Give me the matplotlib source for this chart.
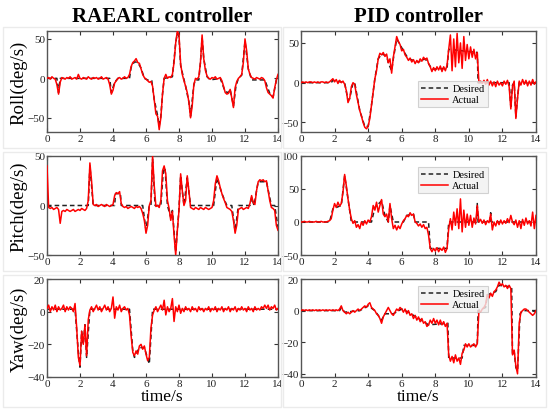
import numpy as np
import matplotlib.pyplot as plt
from matplotlib.patches import Rectangle

plt.rcParams['font.family'] = ['Liberation Serif', 'DejaVu Serif']

roll_rl = [0, 1, -1, 2, 0, -1, -8, -20, -5, 1,
           0, -1, 1, 0, 2, -1, 0, 1, -1, 5,
           0, -1, 1, 0, -1, 2, 0, -1, 1, 0,
           1, -1, 0, 2, -1, 0, 1, -1, -8, -20,
           -15, -6, -3, 0, 1, -1, 0, 2, 0, 1,
           5, 15, 20, 22, 25, 20, 19, 12, 5, 1,
           -1, -3, -5, -4, -10, -28, -45, -48, -65, -50,
           -20, 0, 5, 0, 2, 1, 5, 20, 45, 60,
           55, 18, 5, -3, -10, -18, -30, -50, -35, -8,
           0, -1, 2, 20, 55, 25, 10, 3, 0, -1,
           1, 0, 2, -1, 0, 1, -3, -10, -18, -20,
           -19, -14, -25, -37, -12, -4, 0, 2, 5, 20,
           50, 35, 12, 5, 1, 0, -1, 1, 0, -1,
           1, 0, -3, -12, -18, -20, -22, -25, -12, -2,
           5]
roll_rl_des_t = [0, 0.6, 0.7, 0.8, 3.8, 3.9, 4.1, 4.3, 5.0, 5.1, 5.3, 5.5, 5.7, 5.9, 6.2, 6.35,
                 6.5, 6.7, 6.8, 6.9, 7.0, 7.1, 7.6, 7.8, 7.9, 8.0, 8.1, 8.4, 8.6, 8.7, 8.9, 9.0,
                 9.2, 9.3, 9.4, 9.5, 9.7, 9.9, 10.5, 10.8, 11.0, 11.1, 11.3, 11.45, 11.6, 11.8,
                 12.0, 12.2, 12.4, 13.2, 13.5, 13.7, 13.9, 14]
roll_rl_des = [0, 0, -18, 0, 0, -18, -5, 0, 0, 14, 21, 20, 13, 0, -3, -3,
               -27, -47, -60, -48, -20, 0, 2, 45, 57, 52, 16, -10, -30, -48, -8, -2,
               -2, 20, 52, 25, 2, -2, 0, -17, -18, -14, -35, -10, 0, 4,
               47, 12, -2, -2, -19, -24, -2, 4]

roll_pid = [0, 1, 0, 1, 0, 1, 1, 0, 1, 0,
            1, 0, 1, 1, 0, 1, 0, 1, 3, 5,
            1, 4, -1, 3, 0, 2, -2, -10, -25, -20,
            -5, 0, -2, -15, -25, -35, -42, -50, -56, -58,
            -55, -45, -28, -10, 5, 15, 30, 37, 35, 38,
            33, 36, 25, 30, 12, 32, 45, 58, 52, 48,
            40, 42, 35, 32, 28, 31, 26, 29, 24, 28,
            25, 30, 27, 32, 29, 31, 24, 20, 14, 19,
            15, 20, 16, 21, 14, 20, 15, 22, 42, 60,
            15, 55, 20, 62, 25, 50, 18, 58, 28, 48,
            30, 45, 32, 42, 30, 38, 0, 2, -1, 3,
            -2, 4, -3, 2, -4, 1, -5, 2, -3, 0,
            -4, 2, -2, 3, -5, -33, -5, 2, -45, -20,
            2, -3, 4, -2, 3, -4, 2, -3, 4, -2,
            1]
roll_pid_des_t = [0, 1.8, 1.9, 2.6, 2.8, 2.9, 3.1, 3.2, 3.5, 3.8, 4.0, 4.2, 4.4, 4.6, 4.8, 5.1,
                  5.2, 5.4, 5.5, 5.7, 5.9, 6.1, 6.4, 7.0, 7.4, 7.6, 7.8, 8.7, 8.8, 10.5, 10.55,
                  12.4, 12.5, 12.6, 12.7, 12.8, 12.9, 13.0, 14]
roll_pid_des = [0, 0, 3, 0, -22, -20, 0, 0, -35, -55, -55, -28, 5, 30, 36, 34,
                25, 15, 30, 55, 48, 40, 30, 26, 30, 24, 17, 18, 42, 38, 0,
                0, -30, -3, 0, -43, -18, 0, 0]

pitch_rl = [40, -2, -3, -2, -4, -3, -2, -4, -18, -6,
            -5, -6, -4, -5, -6, -5, -4, -6, -5, -4,
            -5, -3, -4, -5, -3, 5, 43, 25, 1, 0,
            1, -1, 0, 1, 0, -1, 1, 0, -1, 0,
            1, 10, 13, 12, 14, 2, -1, -2, -1, -3,
            -2, -1, -2, -3, -1, -2, -1, -3, -8, -15,
            -28, -20, 0, 5, 50, 20, -1, 0, -2, 5,
            35, 40, 32, 5, -3, -15, -6, -30, -50, -25,
            -5, 32, 15, 0, 5, 30, 15, -2, -3, -4,
            -2, -3, -4, -2, -3, -4, -2, -3, -4, -3,
            -2, 5, 22, 30, 25, 18, 12, 7, 3, -2,
            -3, -4, -6, -15, -28, -20, -4, -3, -2, -4,
            -3, -2, -3, 2, 10, 3, 1, 15, 24, 26,
            25, 26, 24, 25, 15, 5, -2, -3, -5, -20,
            -25]
pitch_rl_des_t = [0, 2.5, 2.6, 2.8, 4.1, 4.15, 4.45, 4.5, 5.8, 6.0, 6.2, 6.3, 6.4, 6.55, 6.9,
                  7.05, 7.15, 7.3, 7.5, 7.6, 7.8, 8.0, 8.1, 8.3, 8.5, 8.7, 10.1, 10.3, 10.6,
                  10.9, 11.2, 11.4, 11.6, 12.3, 12.4, 12.55, 12.7, 12.8, 13.3, 13.6, 13.8, 14]
pitch_rl_des = [0, 0, 40, 0, 0, 12, 12, 0, 0, -25, 0, 0, 47, 0, 0,
                35, 38, 0, -12, -5, -47, -3, 30, 0, 28, 0, 0, 28, 12,
                0, 0, -26, 0, 0, 8, 0, 15, 24, 24, 0, 0, -22]

pitch_pid = [0, 0, 1, 0, 0, 1, 0, 0, 0, 1,
             0, 0, 1, 0, 0, 0, 1, 2, 5, 18,
             28, 22, 30, 24, 28, 45, 72, 55, 35, 18,
             5, -2, 2, -8, -4, -10, 0, -5, 2, -3,
             3, 0, 8, 25, 18, 30, 15, 25, 34, 12,
             8, 12, 0, 28, 5, -10, -5, -12, -6, -10,
             -3, 2, 5, 10, 8, 14, 10, 12, 0, -2,
             -6, -3, -8, -4, -10, -8, -20, -40, -45, -40,
             -44, -39, -45, -40, -43, -38, -46, -40, -10, 5,
             -12, 15, -5, 20, -10, 35, -15, 18, -8, 12,
             -5, 10, -8, 6, -3, 25, 0, 4, -2, 3,
             -4, 2, -1, 12, -12, 0, -6, 2, -4, 3,
             -3, 2, -2, 5, -1, 10, 0, -4, 3, -8,
             2, -10, 4, -5, 6, -3, 2, -6, 15, -10,
             10]
pitch_pid_des_t = [0, 1.7, 1.9, 2.4, 2.6, 2.8, 3.0, 4.2, 4.4, 4.8, 5.0, 5.2, 5.3, 5.5, 6.1,
                   6.3, 6.7, 6.8, 7.6, 7.7, 8.7, 8.8, 10.45, 10.5, 10.55, 11.25, 11.3, 11.35, 14]
pitch_pid_des = [0, 0, 20, 25, 70, 35, 0, 0, 22, 32, 10, 0, 25, 0, 0,
                 10, 12, 0, 0, -40, -40, 0, 0, 28, 0, 0, 14, 0, 0]

yaw_rl = [2, 4, 0, 3, 1, 4, 0, 3, 1, 2,
          4, 0, 3, 1, 3, 2, 0, 5, -10, -28,
          -33, -12, -20, -8, -27, -5, 1, 3, 0, 2,
          4, 1, 3, 0, 2, 4, 1, 3, 0, 2,
          9, -4, 3, 1, 4, 0, 2, 3, 1, 2,
          -2, -15, -25, -27, -24, -26, -21, -20, -23, -21,
          -26, -30, -28, -10, -2, 1, 3, 0, 2, 4,
          1, 7, -2, 3, 0, 2, 8, -6, 3, 0,
          4, -1, 2, 0, 3, 1, 2, 0, 3, 1,
          2, 0, 3, 1, 2, 0, 2, 1, 3, 0,
          2, 1, 3, 0, 2, 1, 3, 0, 2, 1,
          3, 0, 2, 1, 3, 0, 2, 1, 3, 1,
          2, 0, 3, 1, 2, 0, 3, 1, 2, 1,
          3, 2, 4, 2, 4, 1, 3, 2, 4, 1,
          2]
yaw_rl_des_t = [0, 1.7, 1.9, 2.0, 2.1, 2.2, 2.3, 2.4, 2.6, 5.0, 5.2, 5.3, 5.6, 5.9, 6.2, 6.4, 14]
yaw_rl_des = [1.5, 1.5, -25, -34, -12, -20, -8, -28, 1.5, 1.5, -24, -28, -22, -22, -32, 1.5, 1.5]

yaw_pid = [0, 0.5, 0, 0.5, 0, 0.5, 0, 0.5, 0, 0.5,
           0, 0.5, 0, 0.5, 0, 0.5, 0, 0.5, 0, 0.5,
           0, 0.5, 0, 1, 3, 0, -1, -2, -1, -2,
           -1, 0, -1, 0, 1, 0, 1, 2, 3, 2,
           4, 5, 2, 1, 0, -2, -3, -5, -8, -4,
           -2, 0, 2, 0, -2, -3, -1, 1, 0, 2,
           1, -1, 1, -2, 0, -3, -2, -5, -3, -6,
           -4, -7, -5, -8, -7, -10, -9, -6, -8, -5,
           -8, -6, -9, -6, -9, -7, -10, -8, -28, -32,
           -29, -33, -28, -32, -30, -34, -27, -25, -21, -23,
           -21, -23, -22, -21, -23, -21, 0, -1, 1, 2,
           4, 10, 8, 11, 9, 12, 13, 15, 18, 16,
           17, 15, 16, 14, 16, 14, -28, -25, -35, -40,
           -8, -1, 0, 1, 1, 0, -1, -2, -3, -2,
           0]
yaw_pid_des_t = [0, 2.3, 2.4, 2.6, 3.5, 4.0, 4.4, 4.8, 5.0, 5.5, 6.0, 6.4, 7.6, 8.75, 8.8,
                 9.6, 9.7, 10.5, 10.55, 11.0, 11.1, 11.6, 11.8, 12.55, 12.6, 12.7, 12.8,
                 12.9, 13.05, 13.2, 14]
yaw_pid_des = [0, 0, 2, -1, 0, 3, 0, -6, -2, -2, 1, -1, -9, -8, -30,
               -30, -22, -22, 0, 2, 10, 12, 16, 15, -28, -26, -36,
               -38, -2, 0, 0]

panels = [
    (roll_rl, roll_rl_des_t, roll_rl_des, (-68, 60), [-50, 0, 50], 'Roll(deg/s)', False),
    (roll_pid, roll_pid_des_t, roll_pid_des, (-62, 65), [-50, 0, 50], None, True),
    (pitch_rl, pitch_rl_des_t, pitch_rl_des, (-50, 50), [-50, 0, 50], 'Pitch(deg/s)', False),
    (pitch_pid, pitch_pid_des_t, pitch_pid_des, (-50, 100), [-50, 0, 50, 100], None, True),
    (yaw_rl, yaw_rl_des_t, yaw_rl_des, (-40, 20), [-40, -20, 0, 20], 'Yaw(deg/s)', False),
    (yaw_pid, yaw_pid_des_t, yaw_pid_des, (-42, 20), [-40, -20, 0, 20], None, True),
]

W, H = 549, 410
fig = plt.figure(figsize=(W / 100, H / 100), dpi=100)

cols = [(47, 278), (301, 536)]
rows = [(32, 133), (157, 256), (280, 378)]
frame_x = [(3, 281), (283, 546)]
frame_bottom = [149, 272, 408]

for k, (act, dt, dv, ylim, yt, ylab, leg) in enumerate(panels):
    r, c = divmod(k, 2)
    x0, x1 = cols[c]
    y0, y1 = rows[r]
    # light grey panel frame
    fx0, fx1 = frame_x[c]
    fb = frame_bottom[r]
    fig.patches.append(Rectangle((fx0 / W, 1 - fb / H), (fx1 - fx0) / W,
                                 (fb - y0 + 4) / H, transform=fig.transFigure,
                                 fill=False, edgecolor='#ebebeb', lw=1.0))
    ax = fig.add_axes([x0 / W, 1 - y1 / H, (x1 - x0) / W, (y1 - y0) / H])
    t = np.arange(len(act)) * 0.1
    ax.plot(dt, dv, color='#222222', ls=(0, (3, 2)), lw=1.1, label='Desired', zorder=2)
    ax.plot(t, act, color='#ff0000', lw=1.1, label='Actual', zorder=3)
    ax.set_xlim(0, 14)
    ax.set_ylim(*ylim)
    ax.set_xticks(range(0, 15, 2))
    ax.set_yticks(yt)
    ax.tick_params(direction='in', top=True, right=True, labelsize=8, length=3,
                   pad=1.5, colors='#333333', labelcolor='#222222')
    for s in ax.spines.values():
        s.set_color('#555555')
        s.set_linewidth(1.0)
    if ylab:
        ax.set_ylabel(ylab, fontsize=13.5, labelpad=0)
    if r == 2:
        ax.set_xlabel('time/s', fontsize=12.5, labelpad=0)
    if r == 0:
        ax.set_title('RAEARL controller' if c == 0 else 'PID controller',
                     fontsize=15, fontweight='bold', pad=7)
    if leg:
        lg = ax.legend(loc='upper left', bbox_to_anchor=((418 - x0) / (x1 - x0), 1 - (
            [82, 168, 287][r] - y0) / (y1 - y0)), fontsize=7.5, frameon=True,
            fancybox=False, handlelength=2.6, borderpad=0.3, labelspacing=0.15,
            handletextpad=0.4, borderaxespad=0)
        lg.get_frame().set_facecolor('#f0f0f0')
        lg.get_frame().set_edgecolor('#c8c8c8')
        lg.get_frame().set_linewidth(0.8)

fig.savefig('out.png', dpi=100)
